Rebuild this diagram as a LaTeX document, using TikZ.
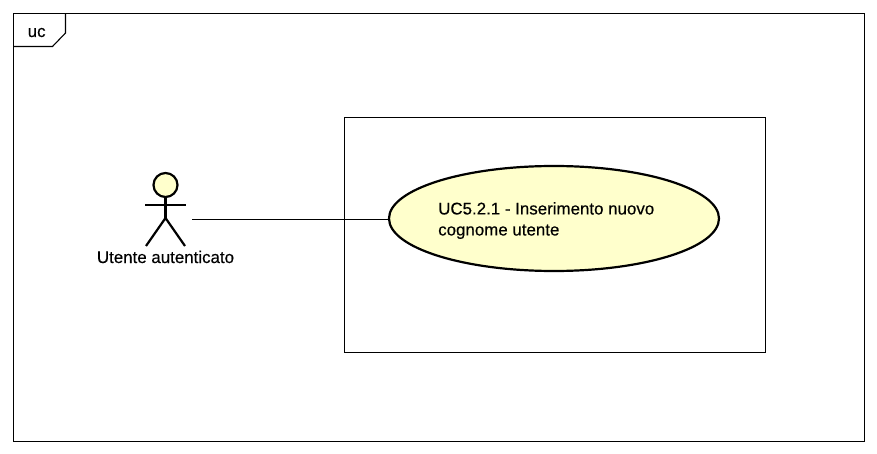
\documentclass[tikz,border=0pt]{standalone}
\usepackage{fontspec}
\setmainfont{Liberation Sans}[AutoFakeBold=0.35]
\usetikzlibrary{shapes.geometric}
\definecolor{ucfill}{HTML}{FFFFCC}
\tikzset{
  thinline/.style={draw=black,line width=1.1pt},
  boldline/.style={draw=black,line width=2.2pt},
  usecase/.style={ellipse,boldline,fill=ucfill,inner sep=0pt,minimum width=330pt,minimum height=105pt},
  umltext/.style={inner sep=0pt,font=\fontsize{16.9pt}{21pt}\selectfont\bfseries,text=black}
}
\begin{document}
\begin{tikzpicture}[x=1pt,y=-1pt]
\useasboundingbox (0,0) rectangle (877,454);
\fill[white] (0,0) rectangle (877,454);
% frame
\draw[thinline] (13.5,13.5) rectangle (864.5,441.5);
\draw[thinline] (65.5,13.5) -- (65.5,33) -- (52.5,46.5) -- (13.5,46.5);
\node[umltext,anchor=base west] (frametag) at (27.5,37) {uc};
% system boundary
\draw[thinline] (344.5,117.5) rectangle (765.5,352.5);
% actor
\node[circle,boldline,fill=ucfill,inner sep=0pt,minimum size=24pt] (head) at (165.5,185) {};
\coordinate (hip) at (165.5,218);
\draw[boldline] (head.south) -- (hip);
\draw[boldline] (145,205) -- (186,205);
\draw[boldline] (146,246) -- (hip) -- (185,246);
\node[umltext,anchor=base] (actor) at (165.5,263) {Utente autenticato};
\coordinate (actorport) at (192,219.5);
% use case
\node[usecase] (uc) at (554,218.5) {};
\node[umltext,anchor=north west,align=left] (uctext) at (438,202) {UC5.2.1 - Inserimento nuovo\\cognome utente};
\draw[thinline] (actorport) -- (uc.west |- actorport);
\end{tikzpicture}
\end{document}
